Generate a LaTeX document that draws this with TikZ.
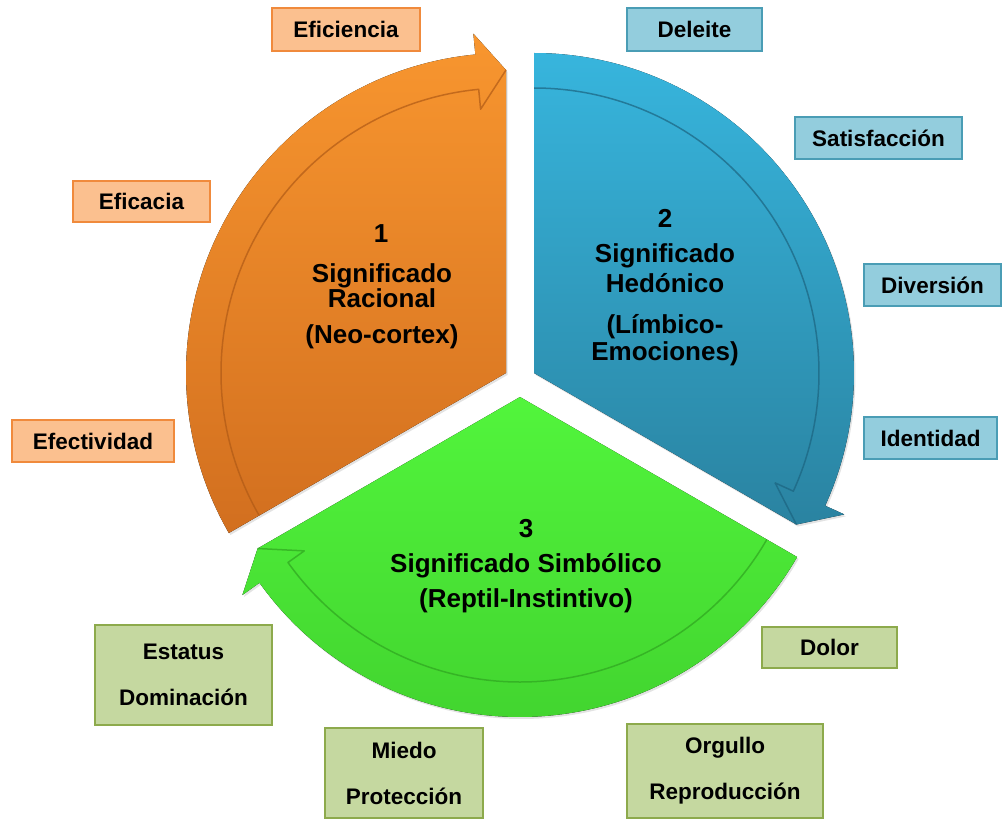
\documentclass[tikz,border=0pt]{standalone}
\usepackage{fontspec}
\setmainfont{Liberation Sans}
\usetikzlibrary{shadows}

% segment colours
\definecolor{orTop}{HTML}{F8962F}
\definecolor{orBot}{HTML}{D26F1F}
\definecolor{orEdge}{HTML}{B05A16}
\definecolor{blTop}{HTML}{37B5DD}
\definecolor{blBot}{HTML}{2A83A1}
\definecolor{blEdge}{HTML}{1C6480}
\definecolor{grTop}{HTML}{52F53C}
\definecolor{grBot}{HTML}{42D42F}
\definecolor{grEdge}{HTML}{2FA520}
% label box colours
\definecolor{orFill}{HTML}{FBC08F}
\definecolor{orLine}{HTML}{F08A3C}
\definecolor{blFill}{HTML}{93CDDD}
\definecolor{blLine}{HTML}{4A9DB5}
\definecolor{grFill}{HTML}{C5D8A0}
\definecolor{grLine}{HTML}{8DAA4C}

\tikzset{
  segshadow/.style={drop shadow={opacity=0.22,shadow xshift=1.5pt,shadow yshift=-2pt}},
  ribbon/.style={line width=1.5pt,opacity=0.7,line join=round},
  ctext/.style={anchor=base,inner sep=0pt,font=\fontsize{26}{30}\selectfont\bfseries,text=black},
  lbl/.style={draw,line width=1.2pt,inner sep=0pt,align=center,text=black,
    font=\fontsize{22.5}{46}\selectfont\bfseries},
  orbox/.style={lbl,fill=orFill,draw=orLine},
  blbox/.style={lbl,fill=blFill,draw=blLine},
  grbox/.style={lbl,fill=grFill,draw=grLine},
}

\begin{document}
\begin{tikzpicture}[x=1pt,y=1pt]
\useasboundingbox (0,0) rectangle (1003,-821);

% 1 -- rational segment (orange), head pointing clockwise at the top
\begin{scope}[shift={(506,-373)}]
  \fill[top color=orTop,bottom color=orBot,segshadow]
    (90:303) -- (95.5:341) -- (95.5:320)
    arc[start angle=95.5,end angle=210,radius=320] -- (0,0) -- cycle;
  \draw[ribbon,orEdge] (210:285) arc[start angle=210,end angle=95.5,radius=285]
    -- (95.5:265) -- (90:303);
\end{scope}

% 2 -- hedonic segment (blue), head at the lower right
\begin{scope}[shift={(534,-373)}]
  \fill[top color=blTop,bottom color=blBot,segshadow]
    (-30:303) -- (-24.5:341) -- (-24.5:320)
    arc[start angle=-24.5,end angle=90,radius=320] -- (0,0) -- cycle;
  \draw[ribbon,blEdge] (90:285) arc[start angle=90,end angle=-24.5,radius=285]
    -- (-24.5:265) -- (-30:303);
\end{scope}

% 3 -- symbolic segment (green), head at the left
\begin{scope}[shift={(520,-397)}]
  \fill[top color=grTop,bottom color=grBot,segshadow]
    (210:303) -- (215.5:341) -- (215.5:320)
    arc[start angle=215.5,end angle=330,radius=320] -- (0,0) -- cycle;
  \draw[ribbon,grEdge] (330:285) arc[start angle=330,end angle=215.5,radius=285]
    -- (215.5:265) -- (210:303);
\end{scope}

% segment titles
\node[ctext] (o1) at (381,-242) {1};
\node[ctext] (o2) at (382,-282) {Significado};
\node[ctext] (o3) at (382,-307) {Racional};
\node[ctext] (o4) at (382,-343) {(Neo-cortex)};

\node[ctext] (b1) at (665,-227) {2};
\node[ctext] (b2) at (665,-262) {Significado};
\node[ctext] (b3) at (665,-292) {Hedónico};
\node[ctext] (b4) at (665,-333) {(Límbico-};
\node[ctext] (b5) at (665,-360) {Emociones)};

\node[ctext] (g1) at (526,-537) {3};
\node[ctext] (g2) at (526,-572) {Significado Simbólico};
\node[ctext] (g3) at (526,-607) {(Reptil-Instintivo)};

% rational labels
\node[orbox,minimum width=148pt,minimum height=43pt] (efi) at (346,-29.5) {Eficiencia};
\node[orbox,minimum width=137pt,minimum height=41pt] (efa) at (141.5,-201.5) {Eficacia};
\node[orbox,minimum width=162pt,minimum height=42pt] (efe) at (93,-441) {Efectividad};

% hedonic labels
\node[blbox,minimum width=135pt,minimum height=43pt] (del) at (694.5,-29.5) {Deleite};
\node[blbox,minimum width=167pt,minimum height=42pt] (sat) at (878.5,-138) {Satisfacción};
\node[blbox,minimum width=137pt,minimum height=42pt] (div) at (932.5,-285) {Diversión};
\node[blbox,minimum width=133pt,minimum height=42pt] (ide) at (930.5,-438) {Identidad};

% symbolic labels
\node[grbox,minimum width=177pt,minimum height=100pt] (est) at (183.5,-675) {Estatus\\Dominación};
\node[grbox,minimum width=158pt,minimum height=90pt] (mie) at (404,-773) {Miedo\\Protección};
\node[grbox,minimum width=135pt,minimum height=41pt] (dol) at (829.5,-647.5) {Dolor};
\node[grbox,minimum width=196pt,minimum height=94pt] (org) at (725,-771) {Orgullo\\Reproducción};
\end{tikzpicture}
\end{document}
